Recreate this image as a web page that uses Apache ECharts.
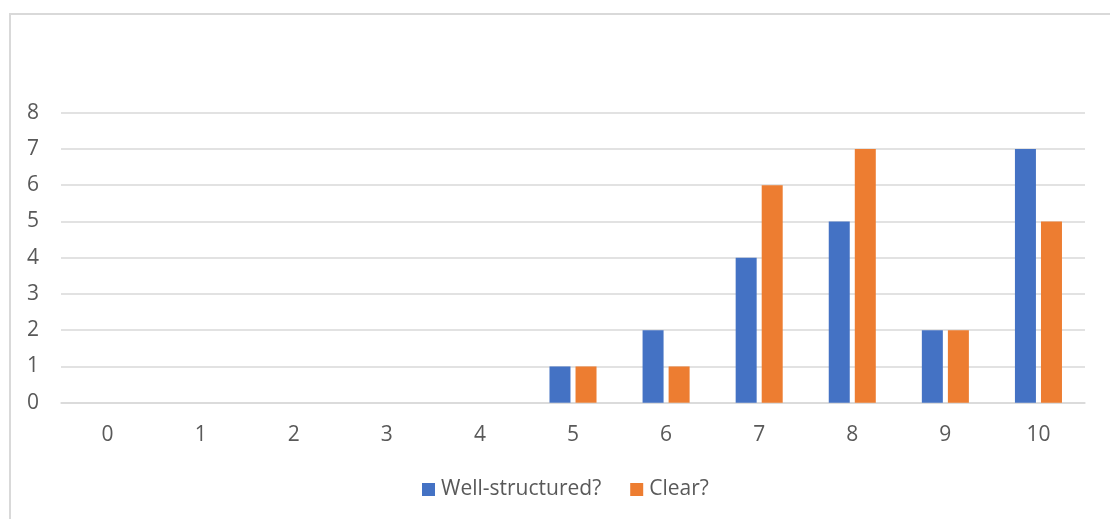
<!DOCTYPE html>
<html>
<head>
<meta charset="utf-8">
<style>
  html, body { margin: 0; padding: 0; background: #ffffff; }
  #chart { width: 1110px; height: 519px; }
</style>
<script src="https://cdn.jsdelivr.net/npm/echarts@6/dist/echarts.min.js"></script>
</head>
<body>
<div id="chart"></div>
<script>
// Ratings 0–10 and how many responses gave each score
const scores = ['0', '1', '2', '3', '4', '5', '6', '7', '8', '9', '10'];
const wellStructured = [0, 0, 0, 0, 0, 1, 2, 4, 5, 2, 7];
const clear = [0, 0, 0, 0, 0, 1, 1, 6, 7, 2, 5];
const yTicks = { min: 0, max: 8, interval: 1 };

const textColor = '#595959';
const gridColor = '#d9d9d9';
const fontFamily = '"Open Sans", "Noto Sans", sans-serif';

const chart = echarts.init(document.getElementById('chart'), null, { renderer: 'canvas' });

chart.setOption({
  animation: false,
  backgroundColor: '#ffffff',
  textStyle: { fontFamily: fontFamily, color: textColor },
  graphic: [{
    type: 'rect',
    shape: { x: 10, y: 14, width: 1120, height: 530 },
    style: { fill: 'none', stroke: gridColor, lineWidth: 2 },
    z: -1
  }],
  grid: { left: 61, right: 25, top: 112.7, bottom: 116.3, containLabel: false },
  legend: {
    data: ['Well-structured?', 'Clear?'],
    left: 417,
    top: 474,
    icon: 'rect',
    itemWidth: 13,
    itemHeight: 13,
    itemGap: 29,
    textStyle: { fontFamily: fontFamily, fontSize: 21, color: textColor, padding: [0, 0, 0, 1] }
  },
  xAxis: {
    type: 'category',
    data: scores,
    axisLine: { show: true, lineStyle: { color: gridColor, width: 1.5 } },
    axisTick: { show: false },
    axisLabel: { fontFamily: fontFamily, fontSize: 21, color: textColor, margin: 22 }
  },
  yAxis: {
    type: 'value',
    min: yTicks.min,
    max: yTicks.max,
    interval: yTicks.interval,
    axisLine: { show: false },
    axisTick: { show: false },
    splitLine: { lineStyle: { color: gridColor, width: 1.5 } },
    axisLabel: { fontFamily: fontFamily, fontSize: 21, color: textColor, margin: 22 }
  },
  series: [
    {
      name: 'Well-structured?',
      type: 'bar',
      data: wellStructured,
      barWidth: 21,
      barGap: '24%',
      itemStyle: { color: '#4472c4' }
    },
    {
      name: 'Clear?',
      type: 'bar',
      data: clear,
      barWidth: 21,
      barGap: '24%',
      itemStyle: { color: '#ed7d31' }
    }
  ]
});
</script>
</body>
</html>
